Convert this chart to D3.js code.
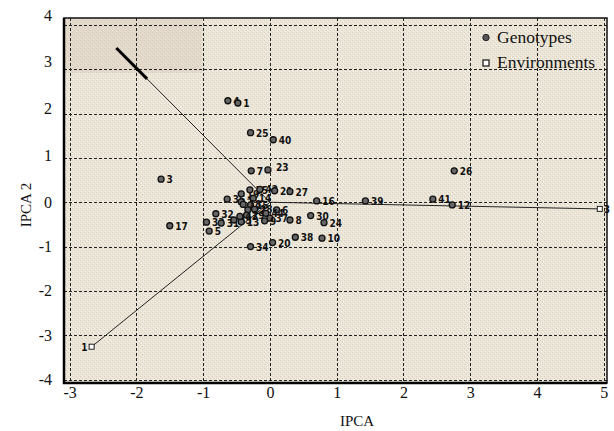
<!DOCTYPE html>
<html>
<head>
<meta charset="utf-8">
<script src="https://cdn.jsdelivr.net/npm/d3@7"></script>
<style>
  html, body { margin: 0; padding: 0; background: #fff; }
  svg { display: block; }
</style>
</head>
<body>
<svg id="chart" width="614" height="431"></svg>
<script>
// Genotype scores on the first two interaction principal components
const genoLabels = ["4","1","25","40","7","23","3","17","5","33","32","31","45","13","36","19","35","42","21","27","16","39","41","12","26","6","37","9","8","30","24","38","10","20","34","2","14","15","18","22","28","29","43","44"];
const genoIPCA1 = [-0.63,-0.48,-0.29,0.05,-0.28,-0.03,-1.63,-1.50,-0.91,-0.95,-0.81,-0.73,-0.54,-0.43,-0.64,-0.43,-0.30,-0.15,0.07,0.30,0.70,1.43,2.44,2.73,2.76,0.10,0.00,-0.08,0.30,0.61,0.81,0.38,0.78,0.04,-0.29,-0.43,-0.25,-0.29,-0.40,-0.33,-0.23,-0.35,-0.45,-0.06];
const genoIPCA2 = [2.29,2.24,1.57,1.41,0.71,0.73,0.52,-0.53,-0.65,-0.45,-0.26,-0.47,-0.40,-0.44,0.07,0.19,0.28,0.29,0.26,0.24,0.03,0.03,0.07,-0.06,0.71,-0.17,-0.36,-0.42,-0.40,-0.30,-0.46,-0.79,-0.81,-0.91,-1.00,0.01,0.09,-0.06,-0.05,-0.17,-0.16,-0.29,-0.32,-0.25];

// Environment vectors
const envLabels = ["1","2","3"];
const envIPCA1 = [-2.67,-2.30,4.94];
const envIPCA2 = [-3.26,3.48,-0.15];

// Axis ticks
const xTicks = [-3,-2,-1,0,1,2,3,4,5];
const yTicks = [-4,-3,-2,-1,0,1,2,3,4];

const svg = d3.select("#chart");
const frame = { left: 64, right: 607, top: 18, bottom: 383 };
const serif = "Liberation Serif, Times New Roman, serif";
const narrow = "DejaVu Sans Condensed, DejaVu Sans, sans-serif";

const x = d3.scaleLinear().domain([-3, 5]).range([69.6, 603.8]);
const y = d3.scaleLinear().domain([-4, 4]).range([379.5, 25]);
// tick labels on the left sit on their own (slightly stretched) ruler
const yLab = d3.scaleLinear().domain([-4, 0, 4]).range([379.5, 202, 15]);

// textured paper fill
const defs = svg.append("defs");
const pat = defs.append("pattern").attr("id", "paper")
  .attr("width", 4).attr("height", 4).attr("patternUnits", "userSpaceOnUse");
pat.append("rect").attr("width", 4).attr("height", 4).attr("fill", "#ebe5d7");
pat.append("rect").attr("x", 0).attr("y", 0).attr("width", 1).attr("height", 1).attr("fill", "#dbd2c2");
pat.append("rect").attr("x", 2).attr("y", 2).attr("width", 1).attr("height", 1).attr("fill", "#d9d0bf");
pat.append("rect").attr("x", 1).attr("y", 3).attr("width", 1).attr("height", 1).attr("fill", "#f5f1e8");
pat.append("rect").attr("x", 3).attr("y", 1).attr("width", 1).attr("height", 1).attr("fill", "#f3efe5");

svg.append("rect")
  .attr("x", frame.left).attr("y", frame.top)
  .attr("width", frame.right - frame.left).attr("height", frame.bottom - frame.top)
  .attr("fill", "url(#paper)");

// slightly rosier patch in the upper-left corner
svg.append("rect")
  .attr("x", frame.left + 1).attr("y", frame.top + 1)
  .attr("width", 137).attr("height", 54)
  .attr("fill", "#d8c8b8").attr("opacity", 0.4);

// dashed grid
const grid = svg.append("g").attr("stroke", "#222").attr("stroke-width", 1)
  .attr("stroke-dasharray", "3,2").attr("fill", "none");
xTicks.forEach(t => grid.append("line")
  .attr("x1", Math.round(x(t)) + 0.5).attr("x2", Math.round(x(t)) + 0.5)
  .attr("y1", frame.top).attr("y2", frame.bottom));
yTicks.forEach(t => grid.append("line")
  .attr("y1", Math.round(y(t)) + 0.5).attr("y2", Math.round(y(t)) + 0.5)
  .attr("x1", frame.left).attr("x2", frame.right));

// frame
svg.append("rect")
  .attr("x", frame.left).attr("y", frame.top)
  .attr("width", frame.right - frame.left).attr("height", frame.bottom - frame.top)
  .attr("fill", "none").attr("stroke", "#111").attr("stroke-width", 1.5);
svg.append("path")
  .attr("d", `M${frame.left},${frame.top}V${frame.bottom}H${frame.right}`)
  .attr("fill", "none").attr("stroke", "#000").attr("stroke-width", 2.5);

// axes (labels only, the frame carries the lines)
const fmt = d => String(d);
const xAxis = d3.axisBottom(x).tickValues(xTicks).tickSize(0).tickPadding(0).tickFormat(fmt);
const gx = svg.append("g").attr("transform", `translate(0,${frame.bottom + 2})`).call(xAxis);
gx.select(".domain").remove();
gx.selectAll("text").attr("font-family", serif)
  .attr("font-size", 16).attr("fill", "#111").attr("dy", "0.8em");

const yAxis = d3.axisLeft(yLab).tickValues(yTicks).tickSize(0).tickPadding(0).tickFormat(fmt);
const gy = svg.append("g").attr("transform", `translate(${frame.left - 12},0)`).call(yAxis);
gy.select(".domain").remove();
gy.selectAll("text").attr("font-family", serif)
  .attr("font-size", 16).attr("fill", "#111");

svg.append("text").attr("x", 357).attr("y", 426).attr("text-anchor", "middle")
  .attr("font-family", serif).attr("font-size", 15)
  .attr("fill", "#111").text("IPCA");
svg.append("text").attr("transform", "translate(31,205) rotate(-90)").attr("text-anchor", "middle")
  .attr("font-family", serif).attr("font-size", 15)
  .attr("fill", "#111").text("IPCA 2");

// environment vectors from the origin
const env = envLabels.map((l, i) => ({ label: l, a: envIPCA1[i], b: envIPCA2[i] }));
const vec = svg.append("g");
env.forEach(d => {
  vec.append("line").attr("x1", x(0)).attr("y1", y(0)).attr("x2", x(d.a)).attr("y2", y(d.b))
    .attr("stroke", "#222").attr("stroke-width", 1);
});
// bold tip on vector 2
const e2 = env[1];
vec.append("line").attr("x1", x(e2.a)).attr("y1", y(e2.b))
  .attr("x2", x(e2.a * 0.8)).attr("y2", y(e2.b * 0.8))
  .attr("stroke", "#000").attr("stroke-width", 3);

// environment markers (vector 2 has its marker hidden under the bold tip)
[env[0], env[2]].forEach(d => {
  vec.append("rect").attr("x", x(d.a) - 2.5).attr("y", y(d.b) - 2.5).attr("width", 5).attr("height", 5)
    .attr("fill", "#fff").attr("stroke", "#222").attr("stroke-width", 1);
});
vec.append("text").attr("x", x(env[0].a) - 4).attr("y", y(env[0].b) + 4).attr("text-anchor", "end")
  .attr("font-family", narrow).attr("font-size", 10)
  .attr("font-weight", "bold").attr("fill", "#111").text(env[0].label);
vec.append("text").attr("x", x(env[2].a) + 4).attr("y", y(env[2].b) + 4)
  .attr("font-family", narrow).attr("font-size", 10)
  .attr("font-weight", "bold").attr("fill", "#111").text(env[2].label);

// genotypes
const geno = genoLabels.map((l, i) => ({ label: l, a: genoIPCA1[i], b: genoIPCA2[i] }));
const gg = svg.append("g");
geno.forEach(d => {
  const cx = x(d.a), cy = y(d.b);
  gg.append("circle").attr("cx", cx).attr("cy", cy).attr("r", 3)
    .attr("fill", "#666").attr("stroke", "#111").attr("stroke-width", 1.3);
  const above = d.label === "23";
  gg.append("text").attr("x", cx + (above ? 8 : 5.5)).attr("y", cy + (above ? 1 : 4))
    .attr("font-family", narrow).attr("font-size", 10)
    .attr("font-weight", "bold").attr("fill", "#111").text(d.label);
});

// legend
const lg = svg.append("g").attr("font-family", serif)
  .attr("font-size", 17.5).attr("fill", "#111");
lg.append("circle").attr("cx", 486).attr("cy", 37.5).attr("r", 3.2)
  .attr("fill", "#555").attr("stroke", "#222").attr("stroke-width", 1);
lg.append("text").attr("x", 497).attr("y", 43).text("Genotypes");
lg.append("rect").attr("x", 483).attr("y", 60).attr("width", 6).attr("height", 6)
  .attr("fill", "#fff").attr("stroke", "#222").attr("stroke-width", 1.3);
lg.append("text").attr("x", 497).attr("y", 68).text("Environments");
</script>
</body>
</html>
